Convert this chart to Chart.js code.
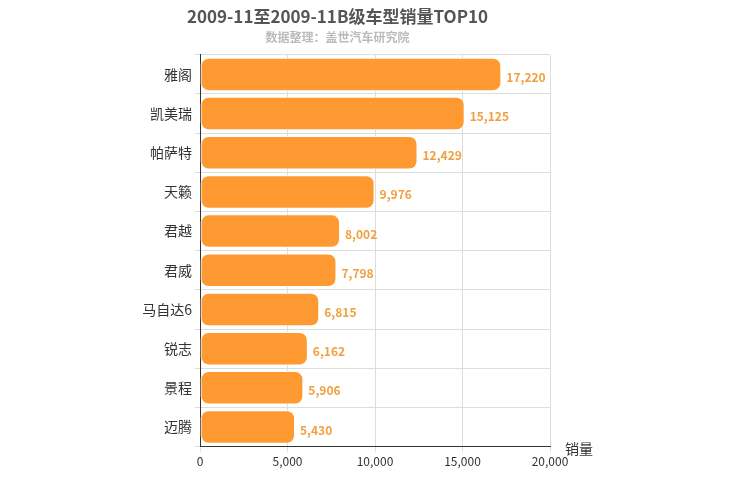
<!DOCTYPE html>
<html><head><meta charset="utf-8">
<script src="https://cdn.jsdelivr.net/npm/chart.js@4/dist/chart.umd.min.js"></script>
<style>body{margin:0}#w{width:750px;height:500px}</style></head>
<body><div id="w"><canvas id="c"></canvas></div>
<script>
const categories = ["雅阁","凯美瑞","帕萨特","天籁","君越","君威","马自达6","锐志","景程","迈腾"];
const sales = [17220,15125,12429,9976,8002,7798,6815,6162,5906,5430];
const xTicks = [0,5000,10000,15000,20000];
const F = "'Microsoft YaHei','Noto Sans CJK SC',sans-serif";
const labelPlugin = {
  id:'lbl',
  afterDatasetsDraw(chart){
    const ctx=chart.ctx, meta=chart.getDatasetMeta(0);
    ctx.save();
    ctx.font="bold 12px "+F; ctx.fillStyle="#F0A040"; ctx.textBaseline="middle";
    meta.data.forEach((b,i)=>{ ctx.fillText(sales[i].toLocaleString('en-US'), b.x+5, b.y+3); });
    const xs=chart.scales.x;
    ctx.font="14px "+F; ctx.fillStyle="#333";
    ctx.fillText("销量", xs.right+15, xs.top+2);
    ctx.restore();
  }
};
new Chart(document.getElementById('c'),{
  type:'bar',
  data:{labels:categories,datasets:[{data:sales,backgroundColor:'#FF9A33',borderColor:'#ffffff',borderWidth:1,borderRadius:8,borderSkipped:false,barPercentage:0.9,categoryPercentage:0.95}]},
  options:{
    indexAxis:'y',responsive:true,maintainAspectRatio:false,animation:false,
    layout:{padding:{left:125,right:200,top:0,bottom:28}},
    plugins:{legend:{display:false},tooltip:{enabled:false},
      title:{display:true,text:"2009-11至2009-11B级车型销量TOP10",color:'#555',font:{size:17,weight:'bold',family:F},padding:{top:6,bottom:4}},
      subtitle:{display:true,text:"数据整理：盖世汽车研究院",color:'#bbb',font:{size:12,weight:'bold',family:F},padding:{bottom:10}}},
    scales:{
      x:{min:0,max:20000,afterBuildTicks(a){a.ticks=xTicks.map(v=>({value:v}));},
        ticks:{color:'#333',font:{size:12,family:F},callback:v=>v.toLocaleString('en-US')},
        grid:{color:'#ddd',tickLength:5},border:{color:'#333'}},
      y:{afterFit(a){a.width=75;},ticks:{color:'#333',font:{size:14,family:F}},
        grid:{color:'#ddd',offset:true,tickLength:5},border:{color:'#333'}}
    }
  },
  plugins:[labelPlugin]
});
</script></body></html>
